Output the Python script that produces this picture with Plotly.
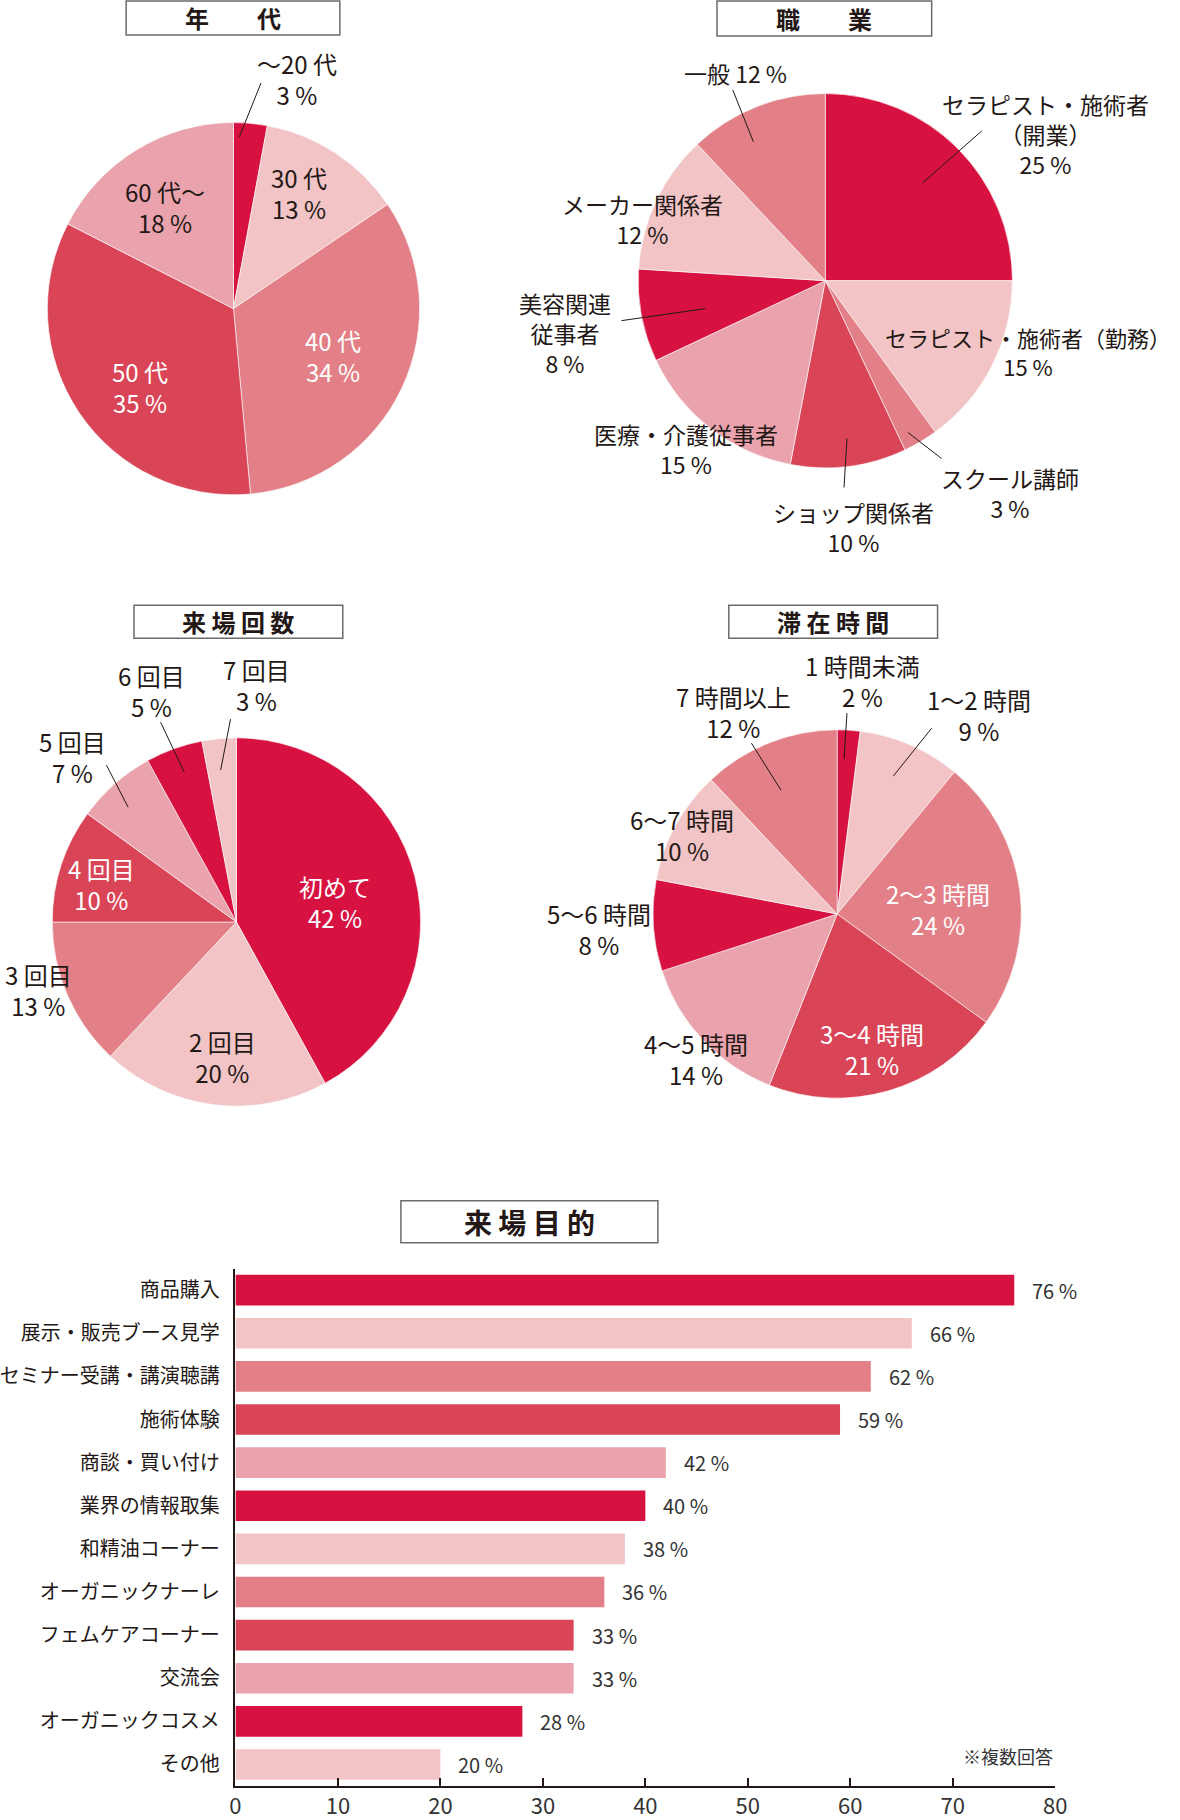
import plotly.graph_objects as go

W, H = 1180, 1820
FONT = "Noto Sans CJK JP"
TXT = "#231815"

CRIMSON = "#D71241"
LIGHT = "#F2C4C6"
MID = "#E38087"
RED = "#D94557"
PINK = "#EAA3AD"

# ---------------- data ----------------
age_labels = ["〜20 代", "30 代", "40 代", "50 代", "60 代〜"]
age_values = [3, 13, 34, 35, 18]
age_colors = [CRIMSON, LIGHT, MID, RED, PINK]

job_labels = ["セラピスト・施術者<br>（開業）", "セラピスト・施術者（勤務）", "スクール講師",
              "ショップ関係者", "医療・介護従事者", "美容関連<br>従事者", "メーカー関係者", "一般"]
job_values = [25, 15, 3, 10, 15, 8, 12, 12]
job_colors = [CRIMSON, LIGHT, MID, RED, PINK, CRIMSON, LIGHT, MID]

visit_labels = ["初めて", "2 回目", "3 回目", "4 回目", "5 回目", "6 回目", "7 回目"]
visit_values = [42, 20, 13, 10, 7, 5, 3]
visit_colors = [CRIMSON, LIGHT, MID, RED, PINK, CRIMSON, LIGHT]

stay_labels = ["1 時間未満", "1〜2 時間", "2〜3 時間", "3〜4 時間", "4〜5 時間",
               "5〜6 時間", "6〜7 時間", "7 時間以上"]
stay_values = [2, 9, 24, 21, 14, 8, 10, 12]
stay_colors = [CRIMSON, LIGHT, MID, RED, PINK, CRIMSON, LIGHT, MID]

purpose_labels = ["商品購入", "展示・販売ブース見学", "セミナー受講・講演聴講", "施術体験",
                  "商談・買い付け", "業界の情報取集", "和精油コーナー", "オーガニックナーレ",
                  "フェムケアコーナー", "交流会", "オーガニックコスメ", "その他"]
purpose_values = [76, 66, 62, 59, 42, 40, 38, 36, 33, 33, 28, 20]
purpose_colors = [CRIMSON, LIGHT, MID, RED, PINK, CRIMSON, LIGHT, MID, RED, PINK, CRIMSON, LIGHT]

axis_ticks = [0, 10, 20, 30, 40, 50, 60, 70, 80]

# ---------------- helpers ----------------
def px(x):
    return x / W

def py(y):
    return 1 - y / H

fig = go.Figure()

def add_pie(labels, values, colors, cx, cy, r):
    fig.add_trace(go.Pie(
        labels=labels, values=values, sort=False, direction="clockwise", rotation=0,
        marker=dict(colors=colors, line=dict(color="rgba(255,255,255,0.6)", width=1)),
        textinfo="none", hoverinfo="label+value", showlegend=False,
        domain=dict(x=[px(cx - r), px(cx + r)], y=[py(cy + r), py(cy - r)]),
    ))

add_pie(age_labels, age_values, age_colors, 231, 309, 189)
add_pie(job_labels, job_values, job_colors, 832, 281, 190)
add_pie(visit_labels, visit_values, visit_colors, 234, 923, 187)
add_pie(stay_labels, stay_values, stay_colors, 844, 915, 187)

# bar chart
fig.add_trace(go.Bar(
    y=purpose_labels, x=purpose_values, orientation="h",
    marker=dict(color=purpose_colors, line=dict(width=0)),
    showlegend=False, hoverinfo="x+y",
))

annotations = []
shapes = []

def pie_text(labels, values, positions, whites, sizes):
    for lab, val, (x, y), wh, fs in zip(labels, values, positions, whites, sizes):
        if lab == "一般":
            t = f"{lab} {val} %"
        else:
            t = f"{lab}<br>{val} %"
        annotations.append(dict(
            text=t, x=px(x), y=py(y), xref="paper", yref="paper",
            xanchor="center", yanchor="middle", showarrow=False, align="center",
            font=dict(family=FONT, size=fs, color="white" if wh else TXT),
        ))

pie_text(age_labels, age_values,
         [(295, 79), (298, 193), (332, 356), (136, 387), (161, 207)],
         [False, False, True, True, False], [24] * 5)
pie_text(job_labels, job_values,
         [(1056, 134), (1038, 352), (1020, 494), (861, 528), (691, 449),
          (568, 333), (646, 219), (741, 73)],
         [False] * 8, [23, 22, 23, 23, 23, 23, 23, 23])
pie_text(visit_labels, visit_values,
         [(334, 903), (220, 1058), (33, 991), (97, 885), (68, 758), (148, 692), (254, 686)],
         [True, False, False, True, False, False, False], [24] * 7)
pie_text(stay_labels, stay_values,
         [(870, 682), (988, 716), (946, 910), (879, 1050), (701, 1060),
          (602, 930), (686, 836), (739, 713)],
         [False, False, True, True, False, False, False, False], [24] * 8)

# leader lines
leaders = [
    ((259, 83), (237, 137)),
    ((991, 131), (931, 183)),
    ((916, 433), (950, 459)),
    ((854, 439), (851, 488)),
    ((625, 321), (710, 309)),
    ((738, 90), (759, 142)),
    ((102, 766), (124, 808)),
    ((157, 723), (181, 773)),
    ((228, 720), (218, 771)),
    ((854, 714), (851, 760)),
    ((940, 729), (901, 777)),
    ((757, 744), (787, 791)),
]
for (x0, y0), (x1, y1) in leaders:
    shapes.append(dict(type="line", xref="paper", yref="paper",
                       x0=px(x0), y0=py(y0), x1=px(x1), y1=py(y1),
                       line=dict(color="#231815", width=1)))

# title boxes
titles = [
    ("年　　代", 122, 1, 339, 35, 24),
    ("職　　業", 722, 1, 940, 36, 24),
    ("来 場 回 数", 130, 606, 342, 639, 24),
    ("滞 在 時 間", 734, 606, 946, 639, 24),
    ("来 場 目 的", 401, 1202, 662, 1244, 28),
]
for t, x0, y0, x1, y1, fs in titles:
    shapes.append(dict(type="rect", xref="paper", yref="paper",
                       x0=px(x0), y0=py(y0), x1=px(x1), y1=py(y1),
                       line=dict(color="#6b6b6b", width=1.5), fillcolor="white", layer="below"))
    annotations.append(dict(text=f"<b>{t}</b>", x=px((x0 + x1) / 2), y=py((y0 + y1) / 2),
                            xref="paper", yref="paper", xanchor="center", yanchor="middle",
                            showarrow=False, font=dict(family=FONT, size=fs, color=TXT)))

# bar value labels
for lab, val in zip(purpose_labels, purpose_values):
    annotations.append(dict(text=f"{val} %", x=val, y=lab, xref="x", yref="y",
                            xanchor="left", yanchor="middle", xshift=16, showarrow=False,
                            font=dict(family=FONT, size=20, color="#333333")))

annotations.append(dict(text="※複数回答", x=80, y=py(1758), xref="x", yref="paper",
                        xanchor="right", yanchor="middle", showarrow=False,
                        font=dict(family=FONT, size=18, color="#333333")))

fig.update_layout(
    width=W, height=H, margin=dict(l=0, r=0, t=0, b=0),
    paper_bgcolor="white", plot_bgcolor="white",
    font=dict(family=FONT, color=TXT),
    bargap=0.29,
    xaxis=dict(domain=[px(233), px(1065.5)], range=[0, 80], tickvals=axis_ticks,
               ticks="inside", ticklen=8, tickwidth=1.5, tickcolor="#231815",
               showline=True, linecolor="#231815", linewidth=1.5, showgrid=False,
               zeroline=False, tickfont=dict(family=FONT, size=22, color="#333333"),
               anchor="y", fixedrange=True),
    yaxis=dict(domain=[py(1788), py(1270)], range=[11.5, -0.5], showline=True,
               linecolor="#231815", linewidth=1.5, showgrid=False, ticks="",
               ticklabelstandoff=10, tickfont=dict(family=FONT, size=20, color=TXT),
               anchor="x", fixedrange=True),
    annotations=annotations, shapes=shapes,
)

fig.write_html(
    "out.html",
    config={"displayModeBar": False},
    post_script="document.body.style.margin='0';document.body.style.padding='0';"
                "document.documentElement.style.overflow='hidden';",
)
